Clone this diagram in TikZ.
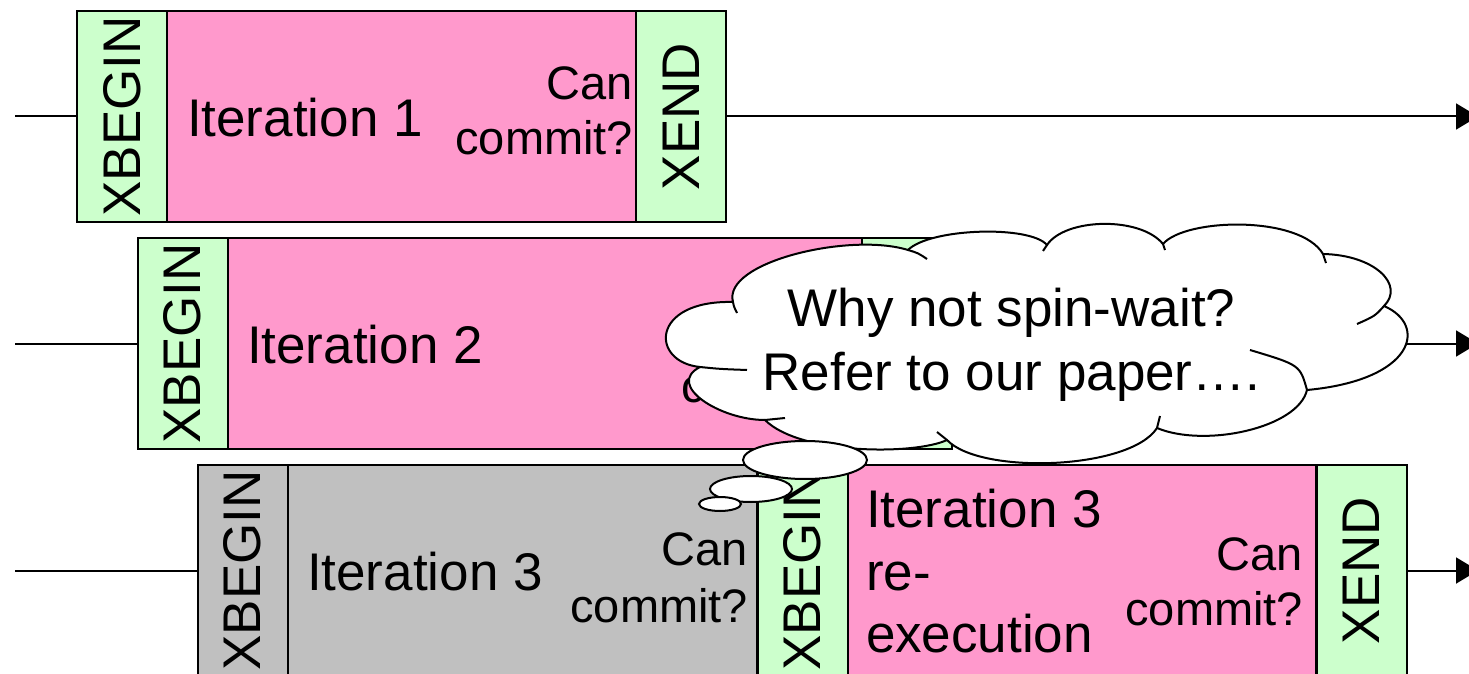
\documentclass[tikz,border=0pt]{standalone}
\usepackage{fontspec}
\setmainfont{Liberation Sans}
\usepackage{graphicx}
\usetikzlibrary{arrows.meta,shapes.geometric}
\definecolor{txpink}{HTML}{FF99CC}
\definecolor{txgreen}{HTML}{CCFFCC}
\definecolor{txgray}{HTML}{C0C0C0}
\begin{document}
\begin{tikzpicture}[x=0.5pt, y=-0.5pt,
  every node/.style={inner sep=0pt, outer sep=0pt},
  block/.style={draw=black, line width=1pt, minimum height=105.5pt},
  marker/.style={block, fill=txgreen, minimum width=45pt, font=\fontsize{26.5}{31}\selectfont},
  abortmark/.style={marker, fill=txgray},
  work/.style={block, fill=txpink},
  aborted/.style={block, fill=txgray},
  big/.style={font=\fontsize{26.5}{31}\selectfont},
  small/.style={font=\fontsize{23.5}{28}\selectfont},
  flow/.style={line width=1pt},
  flowarrow/.style={flow, -{Triangle[width=13pt,length=11pt]}},
  thought/.style={draw=black, fill=white, line width=1pt, line join=round},
  bubble/.style={ellipse, draw=black, fill=white, line width=1pt}
]
\useasboundingbox (0,0) rectangle (1469,674);
\clip (0,0) rectangle (1469,674);

% ---- thread 1 ----
\coordinate (s1) at (15,116.5);
\coordinate (t1) at (1478,116.5);
\node[marker] (b1) at (122,116.5) {\rotatebox{90}{XBEGIN}};
\node[work, minimum width=234.5pt] (i1) at (401.5,116.5) {};
\node[marker] (e1) at (681,116.5) {\rotatebox{90}{XEND}};
\draw[flow] (s1) -- (b1.west);
\draw[flowarrow] (e1.east) -- (t1);
\node[big, anchor=base west] (l1) at (187,137) {Iteration 1};
\node[small, anchor=base east] (c1a) at (633,100) {Can};
\node[small, anchor=base east] (c1b) at (633,155) {commit?};

% ---- thread 2 (its end is covered by the cloud) ----
\coordinate (s2) at (15,343.5);
\coordinate (t2) at (1478,343.5);
\node[marker] (b2) at (182.5,343.5) {\rotatebox{90}{XBEGIN}};
\node[work, minimum width=317pt] (i2) at (545,343.5) {};
\node[marker] (e2) at (907,343.5) {};
\draw[flow] (s2) -- (b2.west);
\draw[flowarrow] (e2.east) -- (t2);
\node[big, anchor=base west] (l2) at (247,364) {Iteration 2};
\node[small, anchor=base east] (c2b) at (859,402) {commit?};

% ---- thread 3: aborted attempt, then re-execution ----
\coordinate (s3) at (15,570.5);
\coordinate (t3) at (1478,570.5);
\node[abortmark] (b3) at (242.5,570.5) {\rotatebox{90}{XBEGIN}};
\node[aborted, minimum width=234.5pt] (i3) at (522.5,570.5) {};
\node[marker] (b3r) at (802.5,570.5) {\rotatebox{90}{XBEGIN}};
\node[work, minimum width=234pt] (i3r) at (1082,570.5) {};
\node[marker] (e3) at (1361.5,570.5) {\rotatebox{90}{XEND}};
\draw[flow] (s3) -- (b3.west);
\draw[flowarrow] (e3.east) -- (t3);
\node[big, anchor=base west] (l3) at (307,590) {Iteration 3};
\node[small, anchor=base east] (c3a) at (748,565) {Can};
\node[small, anchor=base east] (c3b) at (748,622) {commit?};
\node[big, anchor=base west] (l3a) at (866,527) {Iteration 3};
\node[big, anchor=base west] (l3b) at (866,590) {re-};
\node[big, anchor=base west] (l3c) at (866,652) {execution};
\node[small, anchor=base east] (c3c) at (1303,570) {Can};
\node[small, anchor=base east] (c3d) at (1303,625) {commit?};

% ---- thought cloud ----
\draw[thought] (733,302)
  .. controls (722,262) and (850,232) .. (908,250)
  .. controls (930,228) and (1030,225) .. (1047,245)
  .. controls (1065,218) and (1140,216) .. (1163,244)
  .. controls (1185,218) and (1300,215) .. (1323,254)
  .. controls (1375,255) and (1405,285) .. (1384,306)
  .. controls (1428,325) and (1415,380) .. (1307,390)
  .. controls (1298,428) and (1205,448) .. (1157,428)
  .. controls (1130,470) and (980,475) .. (947,440)
  .. controls (915,455) and (800,455) .. (765,420)
  .. controls (720,420) and (665,385) .. (700,367)
  .. controls (650,362) and (650,300) .. (733,302) -- cycle;
% inner ends of the puffs
\draw[flow] (908,250) .. controls (918,253) .. (927,259);
\draw[flow] (733,302) .. controls (734,307) .. (737,313);
\draw[flow] (1047,245) .. controls (1045,248) .. (1043,251);
\draw[flow] (1163,244) .. controls (1164,247) .. (1165,250);
\draw[flow] (1323,254) .. controls (1325,258) .. (1326,263);
\draw[flow] (1384,306) .. controls (1375,316) .. (1357,324);
\draw[flow] (1307,390) .. controls (1300,365) .. (1250,350);
\draw[flow] (1157,428) .. controls (1158,422) .. (1160,416);
\draw[flow] (947,440) .. controls (942,436) .. (937,432);
\draw[flow] (765,420) .. controls (775,419) .. (785,418);
\draw[flow] (700,367) .. controls (720,369) .. (747,370);
\node[big, anchor=base] (q1) at (1011.5,327) {Why not spin-wait?};
\node[big, anchor=base] (q2) at (1011.5,390) {Refer to our paper….};

% ---- trailing bubbles ----
\node[bubble, minimum width=62pt, minimum height=19pt] (u1) at (805,460) {};
\node[bubble, minimum width=41pt, minimum height=13pt] (u2) at (751,489) {};
\node[bubble, minimum width=21pt, minimum height=7pt] (u3) at (720,504) {};
\end{tikzpicture}
\end{document}
